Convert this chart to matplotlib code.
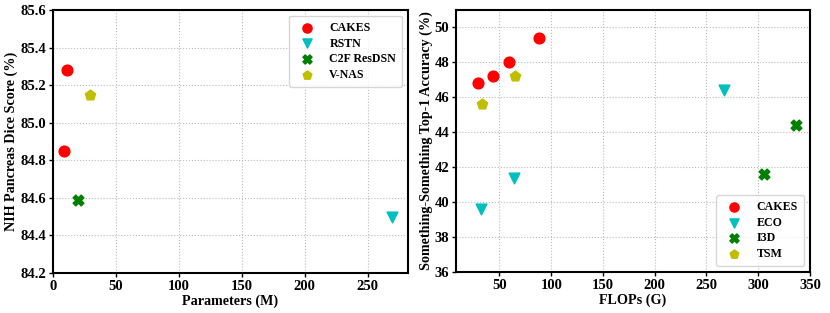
import matplotlib
matplotlib.use('Agg')
import matplotlib.pyplot as plt

# left panel: NIH pancreas
cakes_p = [11, 9]
cakes_dice = [85.28, 84.85]
rstn_p = [269]
rstn_dice = [84.50]
c2f_p = [20]
c2f_dice = [84.59]
vnas_p = [29]
vnas_dice = [85.15]

# right panel: something-something
cakes_f = [29, 44, 59, 88]
cakes_acc = [46.8, 47.2, 48.0, 49.4]
eco_f = [32, 64, 267]
eco_acc = [39.6, 41.4, 46.4]
i3d_f = [306, 336]
i3d_acc = [41.6, 44.4]
tsm_f = [33, 65]
tsm_acc = [45.6, 47.2]

plt.rcParams['font.family'] = 'Liberation Serif'
plt.rcParams['font.weight'] = 'bold'
plt.rcParams['axes.labelweight'] = 'bold'

fig = plt.figure(figsize=(8.3, 3.13), dpi=100)
ax1 = fig.add_axes([53/830, 40/313, 355/830, 263/313])
ax2 = fig.add_axes([456/830, 41/313, 354/830, 262/313])

ms = 60
leg_kw = dict(fontsize=8.6, labelspacing=0.3, handletextpad=0.9, handlelength=2.0,
              markerscale=0.85, borderpad=0.5)

ax1.scatter(cakes_p, cakes_dice, s=ms, c='r', marker='o', label='CAKES', zorder=3)
ax1.scatter(rstn_p, rstn_dice, s=ms, c='c', marker='v', label='RSTN', zorder=3)
ax1.scatter(c2f_p, c2f_dice, s=ms, c='g', marker='X', label='C2F ResDSN', zorder=3)
ax1.scatter(vnas_p, vnas_dice, s=ms, c='y', marker='p', label='V-NAS', zorder=3)
ax1.set_xlim(0, 282)
ax1.set_ylim(84.2, 85.6)
ax1.set_yticks([84.2, 84.4, 84.6, 84.8, 85.0, 85.2, 85.4, 85.6])
ax1.set_xlabel('Parameters (M)', fontsize=10.2, labelpad=1)
ax1.set_ylabel('NIH Pancreas Dice Score (%)', fontsize=10.2, labelpad=2)
ax1.legend(loc='upper right', **leg_kw)

ax2.scatter(cakes_f, cakes_acc, s=ms, c='r', marker='o', label='CAKES', zorder=3)
ax2.scatter(eco_f, eco_acc, s=ms, c='c', marker='v', label='ECO', zorder=3)
ax2.scatter(i3d_f, i3d_acc, s=ms, c='g', marker='X', label='I3D', zorder=3)
ax2.scatter(tsm_f, tsm_acc, s=ms, c='y', marker='p', label='TSM', zorder=3)
ax2.set_xlim(8, 350)
ax2.set_ylim(36, 51)
ax2.set_yticks([36, 38, 40, 42, 44, 46, 48, 50])
ax2.set_xlabel('FLOPs (G)', fontsize=10.2, labelpad=1)
ax2.set_ylabel('Something-Something Top-1 Accuracy (%)', fontsize=10.2, labelpad=1)
ax2.legend(loc='lower right', **leg_kw)

for ax in (ax1, ax2):
    ax.grid(True, linestyle=':', color='#bbbbbb', linewidth=0.8)
    ax.set_axisbelow(True)
    ax.tick_params(labelsize=10.5, length=3, width=1, pad=2)
    for s in ax.spines.values():
        s.set_linewidth(1.5)

plt.savefig('out.png', dpi=100)
